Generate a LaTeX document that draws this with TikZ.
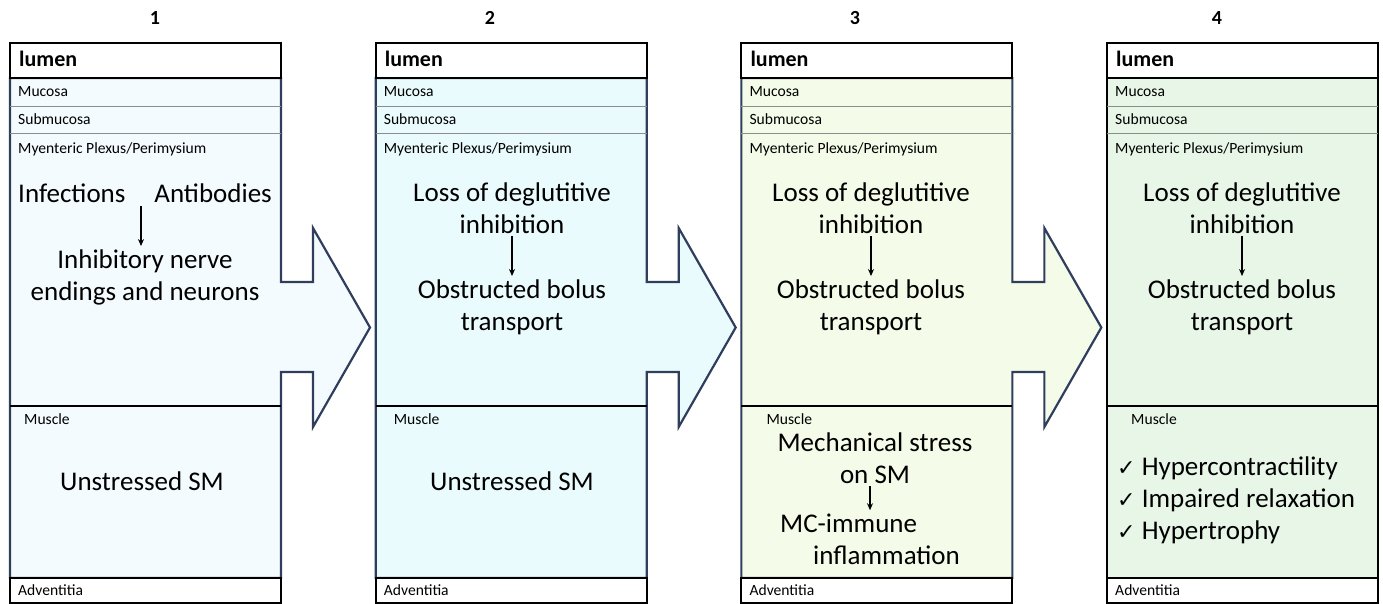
\documentclass[tikz,border=0pt]{standalone}
\usepackage{fontspec}
\setmainfont{Carlito}
\newfontfamily\symfont{DejaVu Sans}
\usepackage{tikz}
\usetikzlibrary{math,arrows.meta}
\definecolor{PanelEdge}{RGB}{46,62,92}
\definecolor{StageOne}{RGB}{244,251,254}
\definecolor{StageTwo}{RGB}{234,251,253}
\definecolor{StageThree}{RGB}{244,251,232}
\definecolor{StageFour}{RGB}{232,246,232}
\tikzset{%
  body/.style={line width=2.2pt, draw=PanelEdge, line join=miter},
  wall line/.style={line width=2pt, color=black},
  layer line/.style={line width=0.8pt, color=black!45},
  small label/.style={anchor=base west, inner sep=0pt, font=\fontsize{15.6}{18}\selectfont},
  lumen label/.style={anchor=base west, inner sep=0pt, font=\bfseries\fontsize{22}{26}\selectfont},
  title label/.style={inner sep=0pt, font=\bfseries\fontsize{20}{22}\selectfont},
  big label/.style={anchor=base, align=center, inner sep=3pt, font=\fontsize{27}{32}\selectfont},
  flow/.style={-{Stealth[length=7pt,width=6pt]}, line width=1.5pt}
}
\newcommand*{\Ticked}{{\symfont\fontsize{22}{32}\selectfont ✓}\ }

\begin{document}
\begin{tikzpicture}[x=1pt,y=-1pt]
    \useasboundingbox (0,0) rectangle (1383,604);
    % the four wall sections:
    \foreach \i/\col/\num/\numx/\mx in {0/StageOne/1/155/14, 1/StageTwo/2/490/18,
                                        2/StageThree/3/855/25, 3/StageFour/4/1217/24} {
      \tikzmath{\xl = 10 + 365.67*\i; \xr = \xl + 271;}
      \ifnum\i<3
        \filldraw[body, fill=\col] (\xl,78) -- (\xr,78) -- (\xr,282) -- (\xr+32,282)
          -- (\xr+32,228) -- (\xr+89,327.5) -- (\xr+32,427) -- (\xr+32,372)
          -- (\xr,372) -- (\xr,578) -- (\xl,578) -- cycle;
      \else
        \filldraw[body, draw=black, fill=\col] (\xl,78) rectangle (\xr,578);
      \fi
      \draw[layer line] (\xl,106) -- (\xr,106) (\xl,133) -- (\xr,133);
      \draw[wall line] (\xl,406) -- (\xr,406);
      \draw[wall line, fill=white] (\xl,43) rectangle (\xr,78);
      \draw[wall line, fill=white] (\xl,578) rectangle (\xr,603);
      \node[title label] (num\num) at (\numx,18) {\num};
      \node[lumen label] (lumen\num) at (\xl+9,67) {lumen};
      \node[small label] (muc\num) at (\xl+8,97) {Mucosa};
      \node[small label] (sub\num) at (\xl+8,125) {Submucosa};
      \node[small label] (plex\num) at (\xl+8,154) {Myenteric Plexus/Perimysium};
      \node[small label] (musc\num) at (\xl+\mx,424) {Muscle};
      \node[small label] (adv\num) at (\xl+8,595) {Adventitia};
    }
    % Stage 1:
    \node[big label, anchor=base west, inner sep=0pt] (inf1) at (18,202) {Infections};
    \node[big label, anchor=base east, inner sep=0pt] (ab1) at (272,202) {Antibodies};
    \node[big label] (inh1) at (145,300) {Inhibitory nerve\\endings and neurons};
    \coordinate (src1) at (141,206);
    \draw[flow] (src1) -- (src1 |- inh1.north);
    \node[big label] (uss1) at (142,490) {Unstressed SM};
    % Stages 2 to 4, plexus:
    \foreach \num/\cx in {2/512, 3/871, 4/1242} {
      \node[big label] (loss\num) at (\cx,233) {Loss of deglutitive\\inhibition};
      \node[big label] (obs\num) at (\cx,330) {Obstructed bolus\\transport};
      \draw[flow] (loss\num) -- (obs\num);
    }
    % Stage 2, muscle:
    \node[big label] (uss2) at (512,490) {Unstressed SM};
    % Stage 3, muscle:
    \node[big label] (mech3) at (875,483) {Mechanical stress\\on SM};
    \node[big label, align=left, anchor=base west] (mci3) at (777,564)
      {MC-immune\\\hspace*{33pt}inflammation};
    \draw[flow] (mech3.south -| 870,0) -- (mci3.north -| 870,0);
    % Stage 4, muscle:
    \node[big label, align=left, anchor=base west] (sm4) at (1114,539)
      {\Ticked Hypercontractility\\\Ticked Impaired relaxation\\\Ticked Hypertrophy};
\end{tikzpicture}
\end{document}
